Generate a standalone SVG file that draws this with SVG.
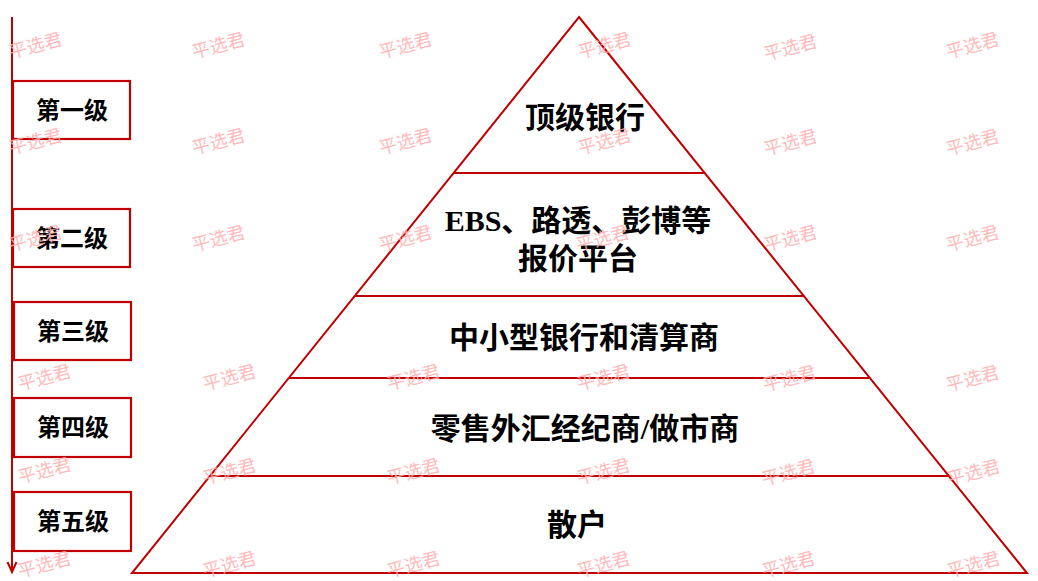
<svg xmlns="http://www.w3.org/2000/svg" width="1038" height="581" viewBox="0 0 1038 581">
<style>
.wm{font-family:"Noto Sans CJK SC",sans-serif;font-size:18px;fill:#ffb0b0;opacity:0.85;text-anchor:middle;dominant-baseline:central}
.red{stroke:#c00000;stroke-width:2;fill:none}
.box{stroke:#c00000;stroke-width:2.2;fill:#ffffff}
.lbl{font-family:"Liberation Serif","Noto Sans CJK SC",serif;font-weight:bold;font-size:24px;fill:#000;text-anchor:middle}
.tier{font-family:"Liberation Serif","Noto Sans CJK SC",serif;font-weight:bold;font-size:30px;fill:#000;text-anchor:middle}
</style>
<rect width="1038" height="581" fill="#ffffff"/>
<g id="pyramid">
<polygon class="red" points="579,17 1027,573 132,573" stroke-linejoin="miter"/>
<line class="red" x1="454" y1="173" x2="705" y2="173"/>
<line class="red" x1="355" y1="296" x2="804" y2="296"/>
<line class="red" x1="289" y1="378" x2="869" y2="378"/>
<line class="red" x1="210" y1="476" x2="949" y2="476"/>
</g>
<g id="tiers">
<text class="tier" x="585" y="128">顶级银行</text>
<text class="tier" x="578" y="231">EBS、路透、彭博等</text>
<text class="tier" x="578" y="269">报价平台</text>
<text class="tier" x="584" y="348">中小型银行和清算商</text>
<text class="tier" x="585" y="439">零售外汇经纪商/做市商</text>
<text class="tier" x="577" y="535">散户</text>
</g>
<g id="connectors">
<line class="red" x1="12" y1="17" x2="12" y2="572"/>
<polyline class="red" points="7.5,562 12,572 16.5,562"/>
</g>
<g id="level1"><rect class="box" x="13" y="81" width="117" height="58"/><text class="lbl" x="72" y="118.5">第一级</text></g>
<g id="level2"><rect class="box" x="13" y="209" width="117" height="58"/><text class="lbl" x="72" y="246.5">第二级</text></g>
<g id="level3"><rect class="box" x="14" y="302" width="117" height="58"/><text class="lbl" x="73" y="339.5">第三级</text></g>
<g id="level4"><rect class="box" x="14" y="398" width="117" height="59"/><text class="lbl" x="73" y="436">第四级</text></g>
<g id="level5"><rect class="box" x="14" y="492" width="117" height="59"/><text class="lbl" x="73" y="530">第五级</text></g>
<g id="watermarks">
<text class="wm" transform="translate(35,44) rotate(-15)">平选君</text>
<text class="wm" transform="translate(218,44) rotate(-15)">平选君</text>
<text class="wm" transform="translate(405,44) rotate(-15)">平选君</text>
<text class="wm" transform="translate(604,44) rotate(-15)">平选君</text>
<text class="wm" transform="translate(790,46) rotate(-15)">平选君</text>
<text class="wm" transform="translate(972,44) rotate(-15)">平选君</text>
<text class="wm" transform="translate(35,140) rotate(-15)">平选君</text>
<text class="wm" transform="translate(218,140) rotate(-15)">平选君</text>
<text class="wm" transform="translate(405,140) rotate(-15)">平选君</text>
<text class="wm" transform="translate(604,140) rotate(-15)">平选君</text>
<text class="wm" transform="translate(790,141) rotate(-15)">平选君</text>
<text class="wm" transform="translate(972,141) rotate(-15)">平选君</text>
<text class="wm" transform="translate(35,237) rotate(-15)">平选君</text>
<text class="wm" transform="translate(218,237) rotate(-15)">平选君</text>
<text class="wm" transform="translate(405,237) rotate(-15)">平选君</text>
<text class="wm" transform="translate(602,237) rotate(-15)">平选君</text>
<text class="wm" transform="translate(790,237) rotate(-15)">平选君</text>
<text class="wm" transform="translate(972,237) rotate(-15)">平选君</text>
<text class="wm" transform="translate(44,376) rotate(-15)">平选君</text>
<text class="wm" transform="translate(229,376) rotate(-15)">平选君</text>
<text class="wm" transform="translate(413,376) rotate(-15)">平选君</text>
<text class="wm" transform="translate(603,376) rotate(-15)">平选君</text>
<text class="wm" transform="translate(789,377) rotate(-15)">平选君</text>
<text class="wm" transform="translate(972,377) rotate(-15)">平选君</text>
<text class="wm" transform="translate(44,469) rotate(-15)">平选君</text>
<text class="wm" transform="translate(229,470) rotate(-15)">平选君</text>
<text class="wm" transform="translate(413,470) rotate(-15)">平选君</text>
<text class="wm" transform="translate(603,470) rotate(-15)">平选君</text>
<text class="wm" transform="translate(788,471) rotate(-15)">平选君</text>
<text class="wm" transform="translate(973,471) rotate(-15)">平选君</text>
<text class="wm" transform="translate(44,563) rotate(-15)">平选君</text>
<text class="wm" transform="translate(229,563) rotate(-15)">平选君</text>
<text class="wm" transform="translate(413,563) rotate(-15)">平选君</text>
<text class="wm" transform="translate(603,563) rotate(-15)">平选君</text>
<text class="wm" transform="translate(788,563) rotate(-15)">平选君</text>
<text class="wm" transform="translate(973,563) rotate(-15)">平选君</text>
</g>
</svg>
